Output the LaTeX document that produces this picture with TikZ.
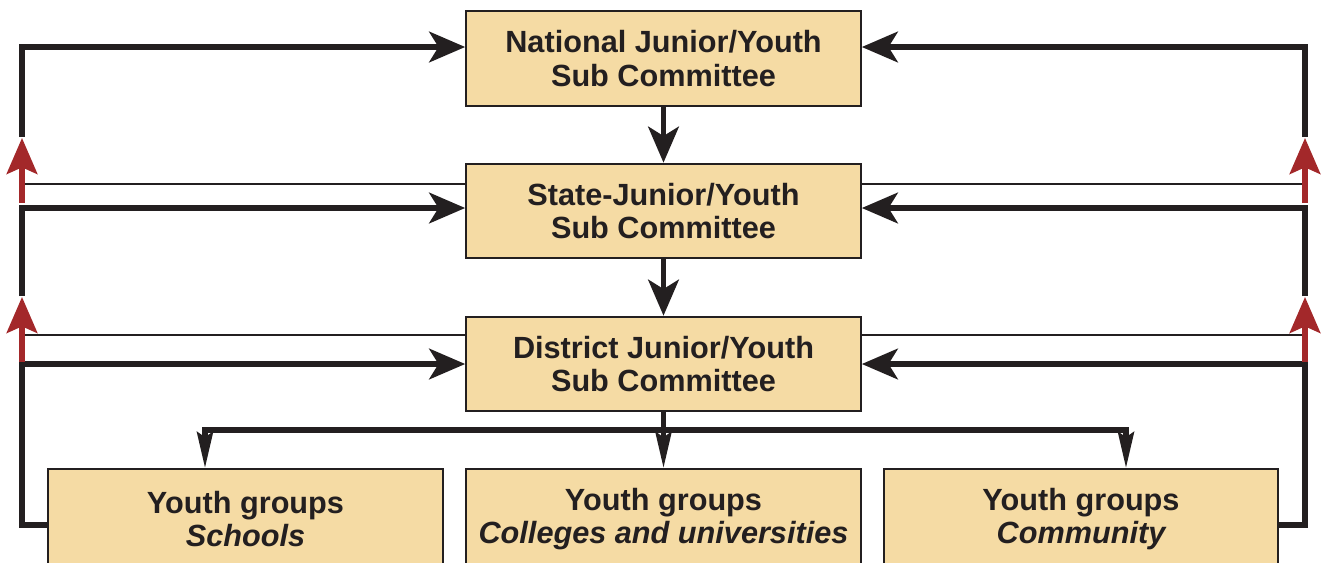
\documentclass[tikz,border=0pt]{standalone}
\usepackage{fontspec}
\setmainfont{Liberation Sans}
\usetikzlibrary{arrows.meta,calc}

\definecolor{boxfill}{RGB}{245,219,164}
\definecolor{ink}{RGB}{35,31,32}
\definecolor{upred}{RGB}{163,40,42}

\tikzset{
	committee/.style={draw=ink, line width=1.5pt, fill=boxfill, text=ink,
		minimum width=296pt, minimum height=71pt, inner sep=0pt,
		align=center, font=\fontsize{23}{24.8}\selectfont\bfseries},
	group/.style={committee, minimum height=75pt},
	link/.style={draw=ink, line width=4pt,
		-{Stealth[length=27pt,width=23pt,inset=7pt]}},
	plainlink/.style={draw=ink, line width=4pt},
	thinlink/.style={draw=ink, line width=1.5pt},
	drop/.style={draw=ink, line width=4pt,
		-{Stealth[length=27pt,width=12pt,inset=4pt]}},
	report/.style={draw=upred, line width=3.8pt,
		-{Stealth[length=27pt,width=23pt,inset=5pt]}},
}

\begin{document}
\begin{tikzpicture}[x=0.75pt,y=0.75pt,yscale=-1,xscale=1]
	\useasboundingbox (0,0) rectangle (1321,562);
	
	% committees
	\node[committee] (nat) at (663.5,58.5) {National Junior/Youth\\Sub Committee};
	\node[committee] (state) at (663.5,211) {State-Junior/Youth\\Sub Committee};
	\node[committee] (dist) at (663.5,364) {District Junior/Youth\\Sub Committee};
	\node[group] (schools) at (245.5,519) {Youth groups\\\itshape Schools};
	\node[group] (colleges) at (663.5,519) {Youth groups\\\itshape Colleges and universities};
	\node[group] (community) at (1081,519) {Youth groups\\\itshape Community};
	
	% rail points, left
	\coordinate (lTop) at (22,47);
	\coordinate (lEnd1) at (22,137);
	\coordinate (lRed1a) at (22,203);
	\coordinate (lRed1b) at (22,138);
	\coordinate (lThin1) at (22,184);
	\coordinate (lMid) at (22,208);
	\coordinate (lEnd2) at (22,296);
	\coordinate (lRed2a) at (22,362);
	\coordinate (lRed2b) at (22,297);
	\coordinate (lThin2) at (22,335);
	\coordinate (lBot) at (22,525);
	
	% rail points, right
	\coordinate (rTop) at (1305,47);
	\coordinate (rEnd1) at (1305,137);
	\coordinate (rRed1a) at (1305,203);
	\coordinate (rRed1b) at (1305,138);
	\coordinate (rThin1) at (1305,184);
	\coordinate (rMid) at (1305,208);
	\coordinate (rEnd2) at (1305,296);
	\coordinate (rRed2a) at (1305,362);
	\coordinate (rRed2b) at (1305,297);
	\coordinate (rThin2) at (1305,335);
	\coordinate (rBot) at (1305,525);
	
	% bus drop points
	\coordinate (busL) at (205,430);
	\coordinate (busR) at (1126,430);
	
	% downward chain
	\draw[link] (nat) -- (state);
	\draw[link] (state) -- (dist);
	\draw[plainlink] (dist.south) -- (dist.south |- busL);
	\draw[plainlink, line cap=rect] (busL) -- (busR);
	\draw[drop] (busL) -- (busL |- schools.north);
	\draw[drop] (colleges.north |- busL) -- (colleges.north);
	\draw[drop] (busR) -- (busR |- community.north);
	
	% left loops
	\draw[link] (lEnd1) -- (lTop) -- (lTop -| nat.west);
	\draw[thinlink] (lThin1) -- (lThin1 -| state.west);
	\draw[link] (lEnd2) -- (lMid) -- (lMid -| state.west);
	\draw[thinlink] (lThin2) -- (lThin2 -| dist.west);
	\draw[link] (lBot -| schools.west) -- (lBot) |- (dist.west);
	\draw[report] (lRed1a) -- (lRed1b);
	\draw[report] (lRed2a) -- (lRed2b);
	
	% right loops
	\draw[link] (rEnd1) -- (rTop) -- (rTop -| nat.east);
	\draw[thinlink] (rThin1) -- (rThin1 -| state.east);
	\draw[link] (rEnd2) -- (rMid) -- (rMid -| state.east);
	\draw[thinlink] (rThin2) -- (rThin2 -| dist.east);
	\draw[link] (rBot -| community.east) -- (rBot) |- (dist.east);
	\draw[report] (rRed1a) -- (rRed1b);
	\draw[report] (rRed2a) -- (rRed2b);
	
\end{tikzpicture}
\end{document}
